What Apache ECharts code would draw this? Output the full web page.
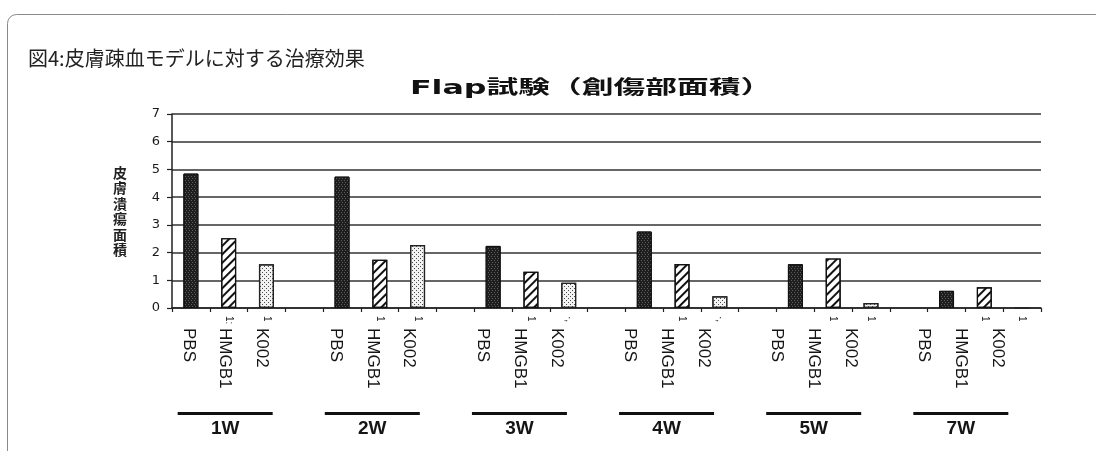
<!DOCTYPE html>
<html>
<head>
<meta charset="utf-8">
<script src="https://cdn.jsdelivr.net/npm/echarts@6/dist/echarts.min.js"></script>
<style>
  html, body { margin: 0; padding: 0; background: #fff; }
  #chart { width: 1096px; height: 451px; }
</style>
</head>
<body>
<div id="chart"></div>
<script>
// Weeks after treatment and the three treatment groups
const weeks = ['1W', '2W', '3W', '4W', '5W', '7W'];
const treatments = ['PBS', 'HMGB1', 'K002'];

// Skin ulcer area per week for each group
const pbsArea = [4.85, 4.74, 2.24, 2.76, 1.58, 0.62];
const hmgb1Area = [2.52, 1.74, 1.31, 1.59, 1.79, 0.75];
const k002Area = [1.58, 2.27, 0.91, 0.42, 0.18, 0];

// Y axis ticks
const yTicks = [0, 1, 2, 3, 4, 5, 6, 7];

// Short fragments printed right under the axis, one per slot
const slotMarks = ['', '1:', '1', '', '', '1', '1', '', '', '1', '·,', '', '', '1', '·,', '', '', '1', '1', '', '', '1', '1'];

// Slot layout: PBS, HMGB1, K002 and a spacer between weeks
const categories = [];
weeks.forEach((w, wi) => {
  treatments.forEach(t => categories.push(w + ' ' + t));
  if (wi < weeks.length - 1) categories.push(w + ' -');
});

function slotData(values, ti) {
  const arr = categories.map(() => '-');
  values.forEach((v, wi) => { arr[wi * 4 + ti] = v; });
  return arr;
}

const textColor = '#151515';
const chart = echarts.init(document.getElementById('chart'), null, { renderer: 'canvas' });

chart.setOption({
  backgroundColor: '#fff',
  animation: false,
  graphic: [
    {
      type: 'rect',
      shape: { x: 7.5, y: 14.5, width: 1300, height: 700, r: 9 },
      style: { fill: 'none', stroke: '#8a8a8a', lineWidth: 1 },
      silent: true
    },
    {
      type: 'text',
      x: 28, y: 58,
      style: {
        text: '図4:皮膚疎血モデルに対する治療効果',
        font: '400 20px "Noto Sans CJK JP"',
        fill: '#222',
        textVerticalAlign: 'middle'
      }
    },
    {
      type: 'text',
      x: 591, y: 89,
      scaleX: 1.67,
      style: {
        text: 'Flap試験（創傷部面積）',
        font: 'bold 19px "DejaVu Sans", "Noto Sans CJK JP"',
        fill: '#111',
        textAlign: 'center',
        textVerticalAlign: 'middle'
      }
    }
  ],
  grid: [
    { left: 172, right: 55, top: 114, bottom: 143 },
    { left: 170, right: 80, top: 114, bottom: 143 }
  ],
  xAxis: [
    {
      type: 'category',
      gridIndex: 0,
      position: 'bottom',
      data: categories,
      axisLine: { show: true, lineStyle: { color: '#222', width: 1.5 } },
      axisTick: { show: true, length: 4, lineStyle: { color: '#222', width: 1.2 } },
      axisLabel: {
        interval: 0,
        rotate: -90,
        margin: 8,
        fontSize: 10,
        fontFamily: '"Liberation Sans", Arial, sans-serif',
        color: '#222',
        formatter: (v, i) => slotMarks[i] || ''
      }
    },
    {
      type: 'category',
      gridIndex: 1,
      position: 'bottom',
      data: categories,
      axisLine: { show: false },
      axisTick: { show: false },
      axisLabel: {
        interval: 0,
        rotate: -90,
        margin: 20,
        fontSize: 17,
        fontFamily: '"Liberation Sans", Arial, sans-serif',
        color: textColor,
        formatter: v => {
          const t = v.split(' ')[1];
          return t === '-' ? '' : t;
        }
      }
    },
    {
      type: 'category',
      gridIndex: 1,
      position: 'bottom',
      data: categories,
      axisLine: { show: false },
      axisTick: { show: false },
      axisLabel: {
        interval: 0,
        margin: 104,
        formatter: v => v.endsWith(' HMGB1') ? '{bar|}\n{wk|' + v.split(' ')[0] + '}' : '',
        rich: {
          bar: { width: 95, height: 3, backgroundColor: '#111', align: 'center' },
          wk: {
            fontSize: 19, fontWeight: 'bold', lineHeight: 28,
            fontFamily: '"Liberation Sans", Arial, sans-serif',
            color: textColor, align: 'center'
          }
        }
      }
    }
  ],
  yAxis: [
    {
      type: 'value',
      gridIndex: 0,
      min: yTicks[0],
      max: yTicks[yTicks.length - 1],
      interval: 1,
      name: '皮\n膚\n潰\n瘍\n面\n積',
      nameLocation: 'middle',
      nameRotate: 0,
      nameGap: 45,
      nameTextStyle: {
        fontSize: 14, lineHeight: 15.5, fontWeight: 'bold',
        fontFamily: '"Noto Sans CJK JP"', color: '#222'
      },
      axisLine: { show: true, lineStyle: { color: '#222', width: 1.5 } },
      axisTick: { show: true, length: 5, lineStyle: { color: '#222', width: 1.2 } },
      axisLabel: {
        margin: 12, fontSize: 13, color: '#1a1a1a',
        fontFamily: '"DejaVu Sans", Verdana, sans-serif'
      },
      splitLine: { show: true, lineStyle: { color: '#333', width: 1.6 } }
    },
    {
      type: 'value', gridIndex: 1, min: 0, max: 1, show: false
    }
  ],
  series: [
    {
      name: treatments[0],
      type: 'bar',
      xAxisIndex: 0, yAxisIndex: 0,
      barWidth: 15,
      barGap: '-100%',
      data: slotData(pbsArea, 0),
      itemStyle: {
        color: '#1e1e1e',
        borderColor: '#111',
        borderWidth: 1,
        decal: {
          symbol: 'rect', symbolSize: 1,
          dashArrayX: [[1, 2], [0, 2, 1, 0]], dashArrayY: [1, 1],
          color: 'rgba(210,210,210,0.35)'
        }
      }
    },
    {
      name: treatments[1],
      type: 'bar',
      xAxisIndex: 0, yAxisIndex: 0,
      barWidth: 15,
      barGap: '-100%',
      data: slotData(hmgb1Area, 1),
      itemStyle: {
        color: '#fff',
        borderColor: '#111',
        borderWidth: 1.2,
        decal: {
          symbol: 'rect', symbolSize: 1,
          dashArrayX: [1, 0], dashArrayY: [2, 4],
          rotation: -Math.PI / 4,
          color: '#111'
        }
      }
    },
    {
      name: treatments[2],
      type: 'bar',
      xAxisIndex: 0, yAxisIndex: 0,
      barWidth: 15,
      barGap: '-100%',
      data: slotData(k002Area, 2),
      itemStyle: {
        color: '#f3f3f3',
        borderColor: '#222',
        borderWidth: 1.2,
        decal: {
          symbol: 'rect', symbolSize: 1,
          dashArrayX: [[1, 3], [0, 2, 1, 1]], dashArrayY: [1, 1],
          color: '#4a4a4a'
        }
      }
    }
  ]
});
</script>
</body>
</html>
